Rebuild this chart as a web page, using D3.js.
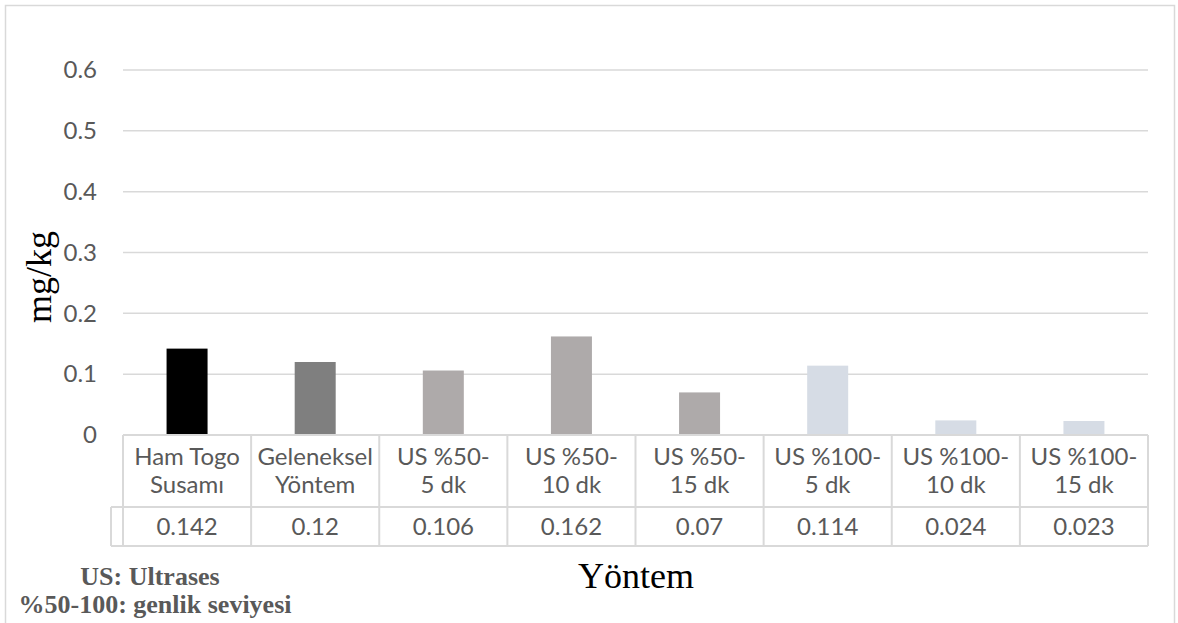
<!DOCTYPE html>
<html>
<head>
<meta charset="utf-8">
<script src="https://cdn.jsdelivr.net/npm/d3@7"></script>
<style>
  html, body { margin: 0; padding: 0; background: #ffffff; }
  svg { display: block; }
</style>
</head>
<body>
<svg id="chart" width="1178" height="623"></svg>
<script>
// Method labels (two lines each) and measured values in mg/kg
const categories = [
  ["Ham Togo", "Susamı"],
  ["Geleneksel", "Yöntem"],
  ["US %50-", "5 dk"],
  ["US %50-", "10 dk"],
  ["US %50-", "15 dk"],
  ["US %100-", "5 dk"],
  ["US %100-", "10 dk"],
  ["US %100-", "15 dk"]
];
const values = [0.142, 0.12, 0.106, 0.162, 0.07, 0.114, 0.024, 0.023];
const valueLabels = ["0.142", "0.12", "0.106", "0.162", "0.07", "0.114", "0.024", "0.023"];
const barColors = ["#000000", "#7f7f7f", "#aeaaaa", "#aeaaaa", "#aeaaaa", "#d6dce5", "#d6dce5", "#d6dce5"];
const yTicks = [0, 0.1, 0.2, 0.3, 0.4, 0.5, 0.6];
const yTitle = "mg/kg";
const xTitle = "Yöntem";
const notes = ["US: Ultrases", "%50-100: genlik seviyesi"];

const svg = d3.select("#chart");
const W = 1178, H = 623;
const plot = { left: 123, right: 1148, top: 70, bottom: 435 };
const rowSplit = 507, tableBottom = 546, stubLeft = 111;
const gridColor = "#d9d9d9";
const textColor = "#595959";
const sans = "Lato, 'Open Sans', sans-serif";
const serif = "'Liberation Serif', 'Times New Roman', serif";

// outer chart frame
svg.append("rect")
  .attr("x", 5.5).attr("y", 5.5)
  .attr("width", 1169).attr("height", 640)
  .attr("fill", "#fff").attr("stroke", gridColor).attr("stroke-width", 1.5);

const idx = d3.range(categories.length);
const x = d3.scaleBand().domain(idx).range([plot.left, plot.right]).paddingInner(0).paddingOuter(0);
const y = d3.scaleLinear().domain([0, 0.6]).range([plot.bottom, plot.top]);

// horizontal gridlines
svg.append("g")
  .selectAll("line")
  .data(yTicks.filter(t => t > 0))
  .join("line")
  .attr("x1", plot.left).attr("x2", plot.right)
  .attr("y1", d => y(d)).attr("y2", d => y(d))
  .attr("stroke", gridColor).attr("stroke-width", 1.5);

// y axis labels
const yAxis = d3.axisLeft(y).tickValues(yTicks).tickFormat(d => d === 0 ? "0" : d3.format(".1f")(d)).tickSize(0).tickPadding(26);
const gy = svg.append("g").attr("transform", `translate(${plot.left},0)`).call(yAxis);
gy.select(".domain").remove();
gy.selectAll("text")
  .attr("font-family", sans).attr("font-size", 24).attr("fill", textColor);

// bars
const barW = x.bandwidth() * 0.32;
svg.append("g")
  .selectAll("rect")
  .data(values)
  .join("rect")
  .attr("x", (d, i) => x(i) + (x.bandwidth() - barW) / 2)
  .attr("y", d => y(d))
  .attr("width", barW)
  .attr("height", d => y(0) - y(d))
  .attr("fill", (d, i) => barColors[i]);

// data table under the axis
const table = svg.append("g").attr("stroke", gridColor).attr("stroke-width", 2).attr("fill", "none");
table.append("line").attr("x1", plot.left).attr("x2", plot.right).attr("y1", plot.bottom).attr("y2", plot.bottom);
table.append("line").attr("x1", stubLeft).attr("x2", plot.right).attr("y1", rowSplit).attr("y2", rowSplit);
table.append("line").attr("x1", stubLeft).attr("x2", plot.right).attr("y1", tableBottom).attr("y2", tableBottom);
table.append("line").attr("x1", stubLeft).attr("x2", stubLeft).attr("y1", rowSplit).attr("y2", tableBottom);
table.selectAll(".vline")
  .data(idx.concat([categories.length]))
  .join("line")
  .attr("class", "vline")
  .attr("x1", i => i < categories.length ? x(i) : plot.right)
  .attr("x2", i => i < categories.length ? x(i) : plot.right)
  .attr("y1", plot.bottom).attr("y2", tableBottom);

// category labels
const catG = svg.append("g").attr("font-family", sans).attr("font-size", 24).attr("fill", textColor).attr("text-anchor", "middle");
categories.forEach((lines, i) => {
  lines.forEach((t, k) => {
    catG.append("text")
      .attr("x", x(i) + x.bandwidth() / 2)
      .attr("y", 465 + k * 28)
      .text(t);
  });
});

// value row
svg.append("g").attr("font-family", sans).attr("font-size", 24).attr("fill", textColor).attr("text-anchor", "middle")
  .selectAll("text")
  .data(valueLabels)
  .join("text")
  .attr("x", (d, i) => x(i) + x.bandwidth() / 2)
  .attr("y", 535)
  .text(d => d);

// axis titles
svg.append("text")
  .attr("transform", "translate(51,277) rotate(-90)")
  .attr("text-anchor", "middle")
  .attr("font-family", serif).attr("font-size", 36).attr("fill", "#000")
  .text(yTitle);

svg.append("text")
  .attr("x", 636).attr("y", 588)
  .attr("text-anchor", "middle")
  .attr("font-family", serif).attr("font-size", 36).attr("fill", "#000")
  .text(xTitle);

// footnotes
svg.append("g").attr("font-family", serif).attr("font-size", 26).attr("font-weight", "bold").attr("fill", textColor).attr("text-anchor", "middle")
  .selectAll("text")
  .data(notes)
  .join("text")
  .attr("x", (d, i) => i === 0 ? 150 : 155)
  .attr("y", (d, i) => 585 + i * 28)
  .text(d => d);
</script>
</body>
</html>
